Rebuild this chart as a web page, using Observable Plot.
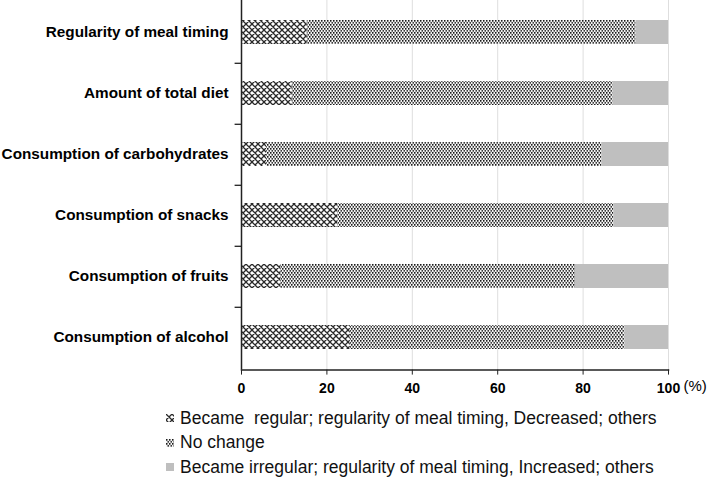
<!DOCTYPE html>
<html>
<head>
<meta charset="utf-8">
<script src="https://cdn.jsdelivr.net/npm/d3@7"></script>
<script src="https://cdn.jsdelivr.net/npm/@observablehq/plot@0.6"></script>
<style>
  body { margin: 0; background: #fff; font-family: Arial, "Liberation Sans", sans-serif; }
  #legend { padding-left: 166px; margin-top: 10px; font-size: 17.5px; color: #111; }
  #legend .row { height: 24.5px; display: flex; align-items: center; }
  #legend svg { margin-right: 6px; }
</style>
</head>
<body>
<div id="chart"></div>
<div id="legend"></div>
<script>
const categories = [
  "Regularity of meal timing",
  "Amount of total diet",
  "Consumption of carbohydrates",
  "Consumption of snacks",
  "Consumption of fruits",
  "Consumption of alcohol"
];
const seriesNames = [
  "Became  regular; regularity of meal timing, Decreased; others",
  "No change",
  "Became irregular; regularity of meal timing, Increased; others"
];
const decreased = [15.4, 11.9, 5.9, 22.6, 9.3, 25.5];
const noChange = [77.0, 75.1, 78.5, 64.6, 68.9, 64.3];
const increased = [7.6, 13.0, 15.6, 12.8, 21.8, 10.2];
const xTicks = [0, 20, 40, 60, 80, 100];

const seriesValues = [decreased, noChange, increased];
const data = [];
categories.forEach((c, i) => {
  seriesNames.forEach((s, j) => data.push({category: c, series: s, value: seriesValues[j][i]}));
});
const fills = ["url(#pCross)", "url(#pDots)", "#bfbfbf"];

const defs = `
<pattern id="pCross" width="6" height="6" patternUnits="userSpaceOnUse">
  <rect width="6" height="6" fill="#fff"/>
  <path d="M0,0 L6,6 M6,0 L0,6 M-1,5 L1,7 M5,-1 L7,1 M-1,1 L1,-1 M5,7 L7,5" stroke="#2a2a2a" stroke-width="1.3"/>
</pattern>
<pattern id="pDots" width="3" height="4" patternUnits="userSpaceOnUse">
  <rect width="3" height="4" fill="#f4f4f4"/>
  <rect x="0" y="0" width="1.5" height="1.7" fill="#1a1a1a"/>
  <rect x="1.5" y="2" width="1.5" height="1.7" fill="#3a3a3a"/>
</pattern>`;

const plotH = 369.6;
const step = plotH / categories.length;

const chart = Plot.plot({
  width: 708,
  height: 396,
  marginTop: 0,
  marginLeft: 241,
  marginRight: 40,
  marginBottom: 396 - plotH,
  style: {fontFamily: "Arial, 'Liberation Sans', sans-serif", color: "#000", background: "#fff"},
  x: {domain: [0, 100], ticks: xTicks, label: null},
  y: {domain: categories, paddingInner: 0.61, paddingOuter: 0.305, label: null},
  color: {domain: seriesNames, range: fills},
  marks: [
    Plot.gridX(xTicks, {stroke: "#dedede", strokeOpacity: 1}),
    Plot.barX(data, Plot.stackX({y: "category", x: "value", fill: "series", order: seriesNames})),
    Plot.ruleY(categories.slice(0, 5), {y: d => d, x1: -1.5, x2: 0, dy: step / 2, stroke: "#222", strokeWidth: 1.3, clip: false}),
    Plot.ruleX([0], {stroke: "#222", strokeWidth: 1.5}),
    Plot.frame({anchor: "bottom", stroke: "#222", strokeWidth: 1.5}),
    Plot.axisX(xTicks, {tickSize: 5, tickPadding: 8, fontSize: 14, fontWeight: "bold", fill: "#000", stroke: "#222", label: null}),
    Plot.axisY({tickSize: 0, tickPadding: 13, fontSize: 15.3, fontWeight: "bold", fill: "#000", label: null}),
    Plot.text(["(%)"], {x: 100, frameAnchor: "bottom", dy: 21, dx: 15, textAnchor: "start", fontSize: 15, fill: "#000"})
  ]
});
const ns = "http://www.w3.org/2000/svg";
const d = document.createElementNS(ns, "defs");
d.innerHTML = defs;
chart.insertBefore(d, chart.firstChild);
document.getElementById("chart").appendChild(chart);

const legend = document.getElementById("legend");
seriesNames.forEach((s, j) => {
  const row = document.createElement("div");
  row.className = "row";
  row.innerHTML = `<svg width="8" height="8"><rect x="0" y="0" width="8" height="8" fill="${fills[j]}"/></svg><span style="white-space:pre">${s}</span>`;
  legend.appendChild(row);
});
</script>
</body>
</html>
